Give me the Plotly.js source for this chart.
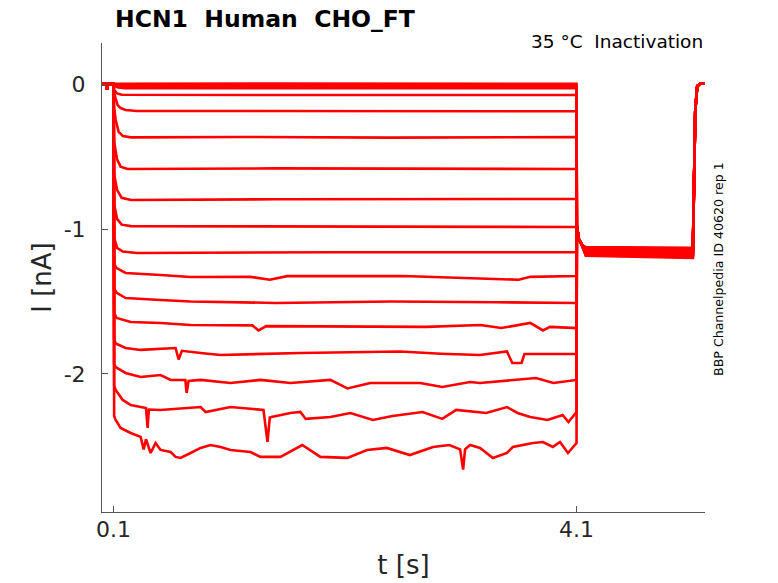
<!DOCTYPE html>
<html>
<head>
<meta charset="utf-8">
<script src="https://cdn.plot.ly/plotly-3.0.1.min.js"></script>
<style>
  html, body { margin: 0; padding: 0; background: white; }
  #myDiv { width: 778px; height: 583px; }
</style>
</head>
<body>
<div id="myDiv"></div>
<script>
// holding period before the step (s, nA)
const tPre = [0, 0.04, 0.045, 0.05, 0.1];
const iPre = [0, 0, -0.04, 0, 0];

// test pulse 0.1 -> 4.1 s, one list of [t, I] per sweep
const sweep01 = [[0.105, 0.002], [1.5, 0.003], [3, 0.002], [4.1, 0.002]];
const sweep02 = [[0.105, -0.006], [0.15, -0.012], [2, -0.013], [4.1, -0.012]];
const sweep03 = [[0.105, -0.012], [0.14, -0.024], [0.2, -0.028], [4.1, -0.029]];
const sweep04 = [[0.105, -0.04], [0.13, -0.065], [0.17, -0.074], [2, -0.076], [4.1, -0.076]];
const sweep05 = [[0.105, -0.06], [0.118, -0.1], [0.135, -0.145], [0.161, -0.166], [0.204, -0.179], [0.3, -0.186], [2, -0.186], [4.1, -0.188]];
const sweep06 = [[0.105, -0.16], [0.118, -0.248], [0.144, -0.33], [0.18, -0.358], [0.25, -0.368], [1.2, -0.365], [2.5, -0.37], [4.1, -0.366]];
const sweep07 = [[0.105, -0.4], [0.13, -0.52], [0.161, -0.57], [0.22, -0.586], [1.5, -0.582], [4.1, -0.586]];
const sweep08 = [[0.105, -0.62], [0.13, -0.73], [0.17, -0.785], [0.25, -0.8], [1.5, -0.795], [4.1, -0.793]];
const sweep09 = [[0.105, -0.83], [0.13, -0.93], [0.17, -0.97], [0.25, -0.98], [2, -0.985], [4.1, -0.986]];
const sweep10 = [[0.105, -1.06], [0.13, -1.13], [0.18, -1.155], [0.3, -1.165], [2, -1.16], [4.1, -1.16]];
const sweep11 = [[0.105, -1.24], [0.127, -1.27], [0.204, -1.303], [0.506, -1.317], [0.765, -1.331], [1.283, -1.33],
  [1.45, -1.35], [1.6, -1.325], [2.6, -1.324], [3.6, -1.35], [3.7, -1.33], [4.1, -1.324]];
const sweep12 = [[0.105, -1.41], [0.127, -1.44], [0.204, -1.476], [0.506, -1.49], [0.765, -1.5], [1.5, -1.51],
  [2.5, -1.5], [3.4, -1.505], [4.1, -1.51]];
const sweep13 = [[0.105, -1.58], [0.127, -1.614], [0.248, -1.641], [0.506, -1.648], [0.765, -1.662], [1.3, -1.665],
  [1.352, -1.7], [1.42, -1.67], [2.0, -1.67], [2.8, -1.675], [3.27, -1.662], [3.45, -1.683], [3.7, -1.648],
  [3.81, -1.7], [3.87, -1.675], [4.1, -1.683]];
const sweep14 = [[0.105, -1.76], [0.118, -1.79], [0.204, -1.821], [0.334, -1.834], [0.636, -1.821], [0.662, -1.9],
  [0.69, -1.84], [0.852, -1.855], [1.024, -1.869], [1.714, -1.855], [2.577, -1.845], [2.93, -1.86], [3.266, -1.869],
  [3.499, -1.845], [3.545, -1.924], [3.625, -1.924], [3.65, -1.862], [4.1, -1.862]];
const sweep15 = [[0.105, -1.93], [0.118, -1.952], [0.204, -1.993], [0.334, -2.021], [0.506, -2.007], [0.593, -2.041],
  [0.72, -2.041], [0.731, -2.131], [0.748, -2.048], [0.852, -2.041], [1.11, -2.062], [1.369, -2.041], [1.628, -2.062],
  [1.973, -2.041], [2.12, -2.1], [2.318, -2.062], [2.749, -2.062], [2.94, -2.09], [3.18, -2.055], [3.266, -2.062],
  [3.75, -2.028], [3.9, -2.062], [4.1, -2.041]];
const sweep16 = [[0.105, -2.08], [0.118, -2.11], [0.179, -2.179], [0.248, -2.214], [0.334, -2.228], [0.38, -2.235],
  [0.394, -2.372], [0.405, -2.245], [0.506, -2.248], [0.852, -2.228], [0.895, -2.262], [1.11, -2.228], [1.395, -2.248],
  [1.43, -2.469], [1.45, -2.3], [1.464, -2.297], [1.628, -2.269], [1.714, -2.262], [1.76, -2.31], [1.973, -2.297],
  [2.146, -2.269], [2.34, -2.317], [2.51, -2.29], [2.77, -2.262], [2.94, -2.31], [3.06, -2.248], [3.32, -2.269],
  [3.499, -2.228], [3.59, -2.269], [3.7, -2.297], [3.85, -2.317], [3.98, -2.283], [4.03, -2.331], [4.1, -2.262]];
const sweep17 = [[0.105, -2.29], [0.118, -2.317], [0.161, -2.372], [0.248, -2.407], [0.334, -2.434], [0.36, -2.52],
  [0.38, -2.45], [0.42, -2.545], [0.463, -2.476], [0.506, -2.524], [0.593, -2.538], [0.636, -2.572], [0.679, -2.579],
  [0.765, -2.545], [0.852, -2.51], [0.938, -2.49], [1.024, -2.503], [1.11, -2.524], [1.283, -2.538], [1.369, -2.572],
  [1.542, -2.572], [1.73, -2.49], [1.887, -2.572], [2.12, -2.579], [2.29, -2.524], [2.46, -2.51], [2.66, -2.559],
  [2.86, -2.503], [3.0, -2.49], [3.094, -2.52], [3.12, -2.66], [3.137, -2.52], [3.18, -2.49], [3.266, -2.51],
  [3.378, -2.579], [3.499, -2.545], [3.55, -2.503], [3.724, -2.476], [3.81, -2.469], [3.896, -2.503], [3.957, -2.469],
  [4.026, -2.545], [4.1, -2.476]];

const sweeps = [sweep01, sweep02, sweep03, sweep04, sweep05, sweep06, sweep07, sweep08, sweep09,
  sweep10, sweep11, sweep12, sweep13, sweep14, sweep15, sweep16, sweep17];

// tail step after 4.1 s: common onset, then per-sweep level, then back to holding
const tTailRise = [4.103, 4.12, 4.146];
const iTailRise = [-0.98, -1.07, -1.11];
const tTailFlat = [4.18, 5.105];
const tailStart = [-1.125, -1.13, -1.135, -1.14, -1.145, -1.15, -1.155, -1.16, -1.165,
  -1.17, -1.175, -1.18, -1.185, -1.15, -1.16, -1.14, -1.17];
const tailEnd = [-1.13, -1.14, -1.145, -1.15, -1.155, -1.16, -1.165, -1.17, -1.175,
  -1.18, -1.19, -1.195, -1.2, -1.16, -1.17, -1.15, -1.185];
const tReturn = [5.126, 5.143, 5.169, 5.21];
const iReturn = [-0.18, -0.015, 0.003, 0.004];

const data = sweeps.map((sw, k) => ({
    type: "scatter",
    mode: "lines",
    x: tPre.concat(sw.map((p) => p[0]), tTailRise, tTailFlat, tReturn),
    y: iPre.concat(sw.map((p) => p[1]), iTailRise, [tailStart[k], tailEnd[k]], iReturn),
    line: { color: "#ff0000", width: 2.6 },
    hoverinfo: "skip",
    showlegend: false,
}));

const font = "DejaVu Sans, Arial, sans-serif";

let layout = {
    width: 778,
    height: 583,
    margin: { l: 102, r: 73, t: 43, b: 71 },
    paper_bgcolor: "white",
    plot_bgcolor: "white",
    showlegend: false,
    font: { family: font, color: "#262626" },
    title: {
        text: "<b>HCN1\u00a0 Human\u00a0 CHO_FT</b>",
        font: { family: font, size: 23.5, color: "#000000" },
        xref: "container",
        x: 115 / 778,
        xanchor: "left",
        yref: "container",
        y: 1 - 19 / 583,
        yanchor: "middle",
    },
    xaxis: {
        range: [0, 5.21],
        tickvals: [0.1, 4.1],
        ticktext: ["0.1", "4.1"],
        ticks: "inside",
        ticklen: 6,
        tickcolor: "#555555",
        tickfont: { size: 22, color: "#262626" },
        ticklabelstandoff: -2,
        showline: true,
        linecolor: "#555555",
        linewidth: 1,
        showgrid: false,
        zeroline: false,
        title: { text: "t [s]", font: { size: 26, color: "#262626" }, standoff: 14 },
    },
    yaxis: {
        range: [-2.952, 0.283],
        tickvals: [0, -1, -2],
        ticktext: ["0", "-1", "-2"],
        ticks: "inside",
        ticklen: 6,
        tickcolor: "#555555",
        tickfont: { size: 22, color: "#262626" },
        ticklabelstandoff: 11,
        showline: true,
        linecolor: "#555555",
        linewidth: 1,
        showgrid: false,
        zeroline: false,
        title: { text: "I [nA]", font: { size: 26, color: "#262626" }, standoff: 4 },
    },
    annotations: [
        {
            text: "35 °C\u00a0 Inactivation",
            xref: "paper", yref: "paper",
            x: 1, xanchor: "right",
            y: 1.004, yanchor: "middle",
            showarrow: false,
            font: { family: font, size: 18.5, color: "#000000" },
        },
        {
            text: "BBP Channelpedia ID 40620 rep 1",
            xref: "paper", yref: "paper",
            x: (718 - 102) / 603, xanchor: "center",
            y: (512 - 269) / 469, yanchor: "middle",
            textangle: -90,
            showarrow: false,
            font: { family: font, size: 12.6, color: "#000000" },
        },
    ],
};

Plotly.newPlot("myDiv", data, layout, { displayModeBar: false, staticPlot: true });
</script>
</body>
</html>
